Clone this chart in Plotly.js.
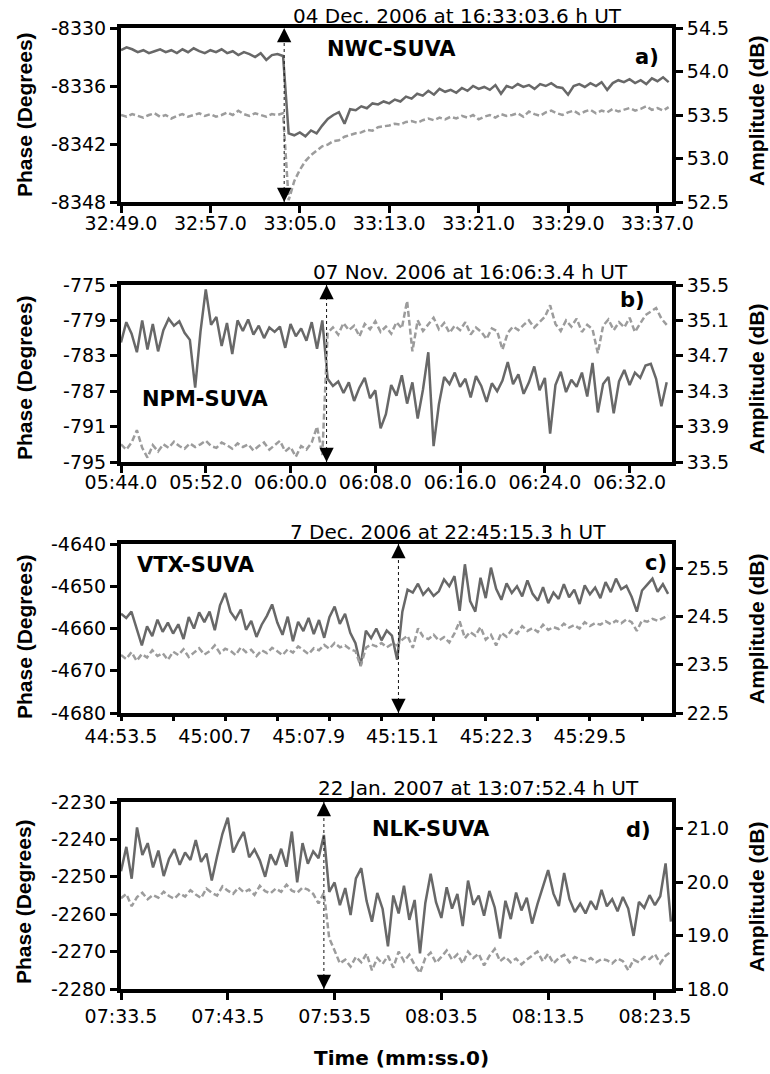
<!DOCTYPE html>
<html><head><meta charset="utf-8">
<script src="https://cdn.plot.ly/plotly-3.0.1.min.js"></script>
<style>html,body{margin:0;padding:0;background:#fff}#chart{width:770px;height:1074px}</style>
</head><body><div id="chart"></div>
<script>
// ---------- DATA ----------
// sampling steps (s) of each record
const stepA = 0.5, stepB = 0.5, stepC = 0.4, stepD = 0.5;
// event times (s from panel start)
const eventA = 14.6, eventB = 19.4, eventC = 21.3, eventD = 19.0;

// Panel a) NWC-SUVA
const phaseA = [-8332.3,-8332.0,-8332.2,-8332.5,-8332.3,-8332.6,-8332.4,-8332.2,-8332.5,-8332.3,
-8332.6,-8332.2,-8332.5,-8332.1,-8332.4,-8332.6,-8332.3,-8332.5,-8332.2,-8332.6,
-8332.4,-8332.8,-8332.5,-8332.7,-8333.0,-8332.6,-8333.3,-8332.8,-8332.7,-8332.9,
-8340.9,-8341.1,-8340.8,-8341.2,-8340.6,-8340.9,-8340.1,-8339.4,-8339.0,-8338.7,
-8339.9,-8338.4,-8338.5,-8338.1,-8338.3,-8337.8,-8337.9,-8337.6,-8337.8,-8337.4,
-8337.6,-8337.1,-8337.3,-8336.8,-8337.0,-8336.5,-8336.9,-8336.3,-8336.6,-8336.4,
-8336.7,-8336.2,-8336.5,-8336.0,-8336.3,-8336.1,-8336.4,-8335.9,-8336.8,-8336.0,
-8336.2,-8335.8,-8336.1,-8335.9,-8336.3,-8335.8,-8336.0,-8335.7,-8336.1,-8336.2,
-8336.9,-8336.0,-8335.8,-8336.1,-8335.7,-8336.0,-8335.6,-8336.4,-8335.7,-8335.4,
-8335.6,-8335.3,-8335.7,-8335.4,-8335.8,-8335.2,-8335.5,-8335.1,-8335.6];
const ampA = [53.50,53.48,53.51,53.49,53.47,53.50,53.52,53.48,53.50,53.46,
53.49,53.51,53.48,53.50,53.52,53.49,53.51,53.48,53.50,53.53,
53.50,53.55,53.51,53.49,53.52,53.50,53.48,53.51,53.50,53.52,
52.52,52.74,52.87,52.97,53.04,53.09,53.14,53.16,53.20,53.21,
53.25,53.27,53.29,53.30,53.33,53.32,53.36,53.37,53.38,53.40,
53.39,53.42,53.43,53.41,53.44,53.46,53.44,53.47,53.45,53.48,
53.46,53.49,53.47,53.50,53.45,53.48,53.50,53.47,53.51,53.49,
53.50,53.52,53.48,53.54,53.51,53.49,53.53,53.55,53.52,53.50,
53.53,53.55,53.51,53.54,53.56,53.52,53.55,53.53,53.57,53.54,
53.56,53.58,53.55,53.57,53.60,53.56,53.58,53.55,53.59];
const ticksA = [0,8,16,24,32,40,48];
const labelsA = ['32:49.0','32:57.0','33:05.0','33:13.0','33:21.0','33:29.0','33:37.0'];
const phaseTicksA = [-8348,-8342,-8336,-8330];

// Panel b) NPM-SUVA
const phaseB = [-781.5,-779.2,-780.5,-782.6,-779.0,-782.3,-779.4,-782.5,-780.1,-778.8,
-779.6,-779.1,-780.4,-781.2,-786.6,-780.3,-775.5,-779.5,-778.6,-781.9,
-779.3,-782.8,-779.0,-780.2,-778.9,-780.6,-779.6,-781.0,-779.8,-780.3,
-779.7,-782.1,-779.4,-780.8,-779.9,-781.3,-779.2,-782.2,-779.0,
-785.6,
-786.4,-785.9,-787.2,-786.0,-788.1,-786.6,-785.5,-787.8,-786.9,-791.2,
-789.6,-786.3,-787.5,-785.2,-788.4,-786.0,-790.1,-786.8,-782.6,-793.2,
-788.5,-785.4,-786.2,-784.9,-786.5,-785.6,-787.7,-785.3,-786.4,-788.2,
-786.1,-787.0,-785.8,-783.7,-786.2,-785.1,-787.3,-786.0,-784.2,-786.9,
-785.5,-791.8,-786.3,-784.8,-787.1,-785.7,-786.5,-784.9,-787.6,-783.8,
-789.4,-786.2,-785.4,-789.5,-785.9,-784.6,-786.3,-784.9,-785.5,-784.1,
-783.9,-785.6,-788.7,-786.0];
const ampB = [33.70,33.64,33.72,33.86,33.66,33.55,33.69,33.62,33.70,33.66,
33.73,33.68,33.65,33.71,33.67,33.70,33.74,33.68,33.66,33.72,
33.69,33.65,33.71,33.67,33.70,33.63,33.68,33.72,33.64,33.69,
33.74,33.62,33.67,33.56,33.68,33.64,33.72,33.90,33.58,
34.96,
35.02,34.94,35.07,34.99,35.04,34.92,35.06,35.00,35.09,34.97,
35.03,34.95,35.08,35.01,35.32,34.75,35.10,34.98,35.06,35.13,
35.00,35.07,34.96,35.04,34.99,35.08,34.94,35.02,34.97,34.89,
35.01,34.98,34.77,34.96,35.03,34.99,35.05,35.10,35.02,35.08,
35.14,35.27,35.06,34.98,35.10,35.03,35.12,34.97,35.05,35.00,
34.73,35.04,35.11,34.99,35.08,35.02,35.13,34.97,35.06,35.16,
35.20,35.24,35.12,35.05];
const ticksB = [0,8,16,24,32,40,48];
const labelsB = ['05:44.0','05:52.0','06:00.0','06:08.0','06:16.0','06:24.0','06:32.0'];
const phaseTicksB = [-795,-791,-787,-783,-779,-775];

// Panel c) VTX-SUVA
const phaseC = [-4656.5,-4657.5,-4656.0,-4660.2,-4664.0,-4659.5,-4661.8,-4657.9,-4660.8,-4658.6,
-4661.2,-4659.0,-4662.5,-4657.3,-4660.0,-4656.2,-4658.5,-4656.0,-4660.4,-4654.5,
-4651.6,-4656.0,-4657.8,-4655.5,-4660.3,-4658.2,-4662.0,-4659.1,-4657.0,-4654.3,
-4658.6,-4661.5,-4657.2,-4663.0,-4658.4,-4660.6,-4657.5,-4661.3,-4658.0,-4662.2,
-4657.3,-4654.8,-4658.9,-4656.5,-4661.0,-4663.5,-4668.8,-4660.5,-4662.3,-4660.0,
-4662.8,-4660.5,-4661.7,-4667.4,
-4656.0,-4650.8,-4651.5,-4649.4,-4652.0,-4650.6,-4652.3,-4651.2,-4648.4,-4650.0,
-4647.6,-4655.8,-4644.8,-4653.5,-4656.0,-4648.0,-4652.8,-4645.6,-4650.6,-4653.2,
-4649.3,-4651.6,-4650.0,-4652.4,-4648.6,-4651.8,-4653.4,-4650.2,-4654.0,-4651.5,
-4653.0,-4649.5,-4652.6,-4650.8,-4654.2,-4649.8,-4651.9,-4650.3,-4652.8,-4649.0,
-4651.4,-4648.2,-4650.7,-4649.9,-4652.5,-4656.0,-4651.0,-4649.6,-4648.2,-4651.3,
-4649.5,-4651.8];
const ampC = [23.70,23.62,23.76,23.58,23.72,23.65,23.80,23.68,23.74,23.60,
23.77,23.70,23.82,23.66,23.75,23.84,23.71,23.78,23.90,23.74,
23.83,23.79,23.70,23.86,23.76,23.81,23.68,23.80,23.74,23.85,
23.78,23.70,23.82,23.75,23.88,23.79,23.72,23.84,23.80,23.91,
23.83,23.95,23.86,23.90,23.82,23.78,23.47,23.85,23.92,23.88,
23.95,23.86,23.93,23.90,
24.02,24.10,23.85,24.25,24.08,24.03,24.12,24.00,24.07,23.96,
24.15,24.40,24.05,24.18,24.10,24.28,24.02,24.12,23.90,24.16,
24.08,24.22,24.14,24.30,24.20,24.26,24.18,24.33,24.22,24.28,
24.24,24.35,24.27,24.32,24.25,24.38,24.30,24.36,24.33,24.40,
24.34,24.41,24.36,24.44,24.38,24.20,24.42,24.39,24.45,24.41,
24.47,24.52];
const ticksC = [0,7.2,14.4,21.6,28.8,36.0];
const labelsC = ['44:53.5','45:00.7','45:07.9','45:15.1','45:22.3','45:29.5'];
const phaseTicksC = [-4680,-4670,-4660,-4650,-4640];

// Panel d) NLK-SUVA
const phaseD = [-2248.5,-2242.0,-2250.5,-2236.8,-2244.2,-2241.0,-2247.5,-2243.0,-2249.8,-2245.2,
-2242.6,-2246.8,-2243.5,-2245.5,-2240.2,-2246.0,-2243.8,-2251.0,-2244.5,-2238.5,
-2234.2,-2243.5,-2240.5,-2238.0,-2244.8,-2242.7,-2245.6,-2250.0,-2244.0,-2246.8,
-2242.5,-2247.3,-2237.9,-2251.5,-2241.0,-2246.5,-2243.2,-2245.0,-2238.8,
-2254.0,
-2251.5,-2257.6,-2253.0,-2260.2,-2250.4,-2247.7,-2256.5,-2262.0,-2254.3,-2258.6,
-2268.6,-2255.0,-2259.8,-2252.4,-2261.5,-2256.2,-2270.5,-2257.0,-2249.2,-2256.8,
-2261.0,-2252.8,-2258.5,-2254.6,-2263.2,-2251.0,-2257.5,-2255.0,-2260.4,-2253.8,
-2258.2,-2266.5,-2256.4,-2261.3,-2254.2,-2259.0,-2255.6,-2262.5,-2257.3,-2253.0,
-2248.2,-2254.5,-2257.8,-2249.0,-2256.0,-2259.4,-2257.2,-2259.8,-2256.5,-2258.8,
-2253.5,-2257.9,-2256.0,-2259.2,-2255.4,-2258.5,-2265.8,-2256.7,-2258.3,-2254.9,
-2257.6,-2255.2,-2246.4,-2262.0];
const ampD = [19.70,19.78,19.55,19.72,19.80,19.68,19.76,19.71,19.82,19.74,
19.69,19.79,19.73,19.85,19.77,19.70,19.88,19.80,19.75,19.92,
19.84,19.78,19.90,19.81,19.86,19.76,19.93,19.83,19.79,19.88,
19.82,19.95,19.84,19.80,19.90,19.86,19.78,19.60,19.80,
18.95,
18.72,18.48,18.55,18.42,18.60,18.50,18.66,18.35,18.58,18.47,
18.62,18.40,18.70,18.52,18.64,18.45,18.30,18.58,18.68,18.49,
18.60,18.72,18.55,18.65,18.48,18.70,18.58,18.66,18.44,18.62,
18.75,18.52,18.60,18.50,18.57,18.46,18.55,18.63,18.70,18.52,
18.66,18.48,18.58,18.64,18.50,18.60,18.55,18.52,18.58,18.50,
18.56,18.54,18.48,18.57,18.52,18.35,18.55,18.50,18.60,18.56,
18.65,18.48,18.62,18.70];
const ticksD = [0,10,20,30,40,50];
const labelsD = ['07:33.5','07:43.5','07:53.5','08:03.5','08:13.5','08:23.5'];
const phaseTicksD = [-2280,-2270,-2260,-2250,-2240,-2230];

const stations = ['NWC-SUVA','NPM-SUVA','VTX-SUVA','NLK-SUVA'];
const panelTags = ['a)','b)','c)','d)'];
const dates = ['04 Dec. 2006 at 16:33:03.6 h UT','07 Nov. 2006 at 16:06:3.4 h UT',
               '7 Dec. 2006 at 22:45:15.3 h UT','22 Jan. 2007 at 13:07:52.4 h UT'];

// ---------- BUILD ----------
const W = 770, H = 1074;
const px = v => v / W, py = v => 1 - v / H;
const SOLID = '#686868', DASH = '#9c9c9c';
const times = (arr, step) => arr.map((_, i) => +(i * step).toFixed(3));

const panels = [
  {ph: phaseA, am: ampA, step: stepA, ev: eventA, top: 28, bot: 202, xr: [0, 49.3], xso: -6,
   yl: [-8348, -8330], ylt: phaseTicksA, yr: [52.5, 54.5], yrt0: 52.5, yrd: 0.5, tv: ticksA, tt: labelsA},
  {ph: phaseB, am: ampB, step: stepB, ev: eventB, top: 285, bot: 462, xr: [0, 52.0], xso: -7,
   yl: [-795, -775], ylt: phaseTicksB, yr: [33.5, 35.5], yrt0: 33.5, yrd: 0.4, tv: ticksB, tt: labelsB},
  {ph: phaseC, am: ampC, step: stepC, ev: eventC, top: 544, bot: 713, xr: [0, 42.3], xso: 3,
   yl: [-4680, -4640], ylt: phaseTicksC, yr: [22.5, 26.0], yrt0: 22.5, yrd: 1, tv: ticksC, tt: labelsC},
  {ph: phaseD, am: ampD, step: stepD, ev: eventD, top: 802, bot: 989, xr: [0, 51.6], xso: 0,
   yl: [-2280, -2230], ylt: phaseTicksD, yr: [18, 21.5], yrt0: 18, yrd: 1, tv: ticksD, tt: labelsD}
];

const tickFont = {family: 'DejaVu Sans', size: 19, color: '#000'};
const xdom = [px(121), px(672)];
const layout = {
  width: W, height: H, autosize: false, showlegend: false,
  margin: {l: 0, r: 0, t: 0, b: 0}, paper_bgcolor: '#fff', plot_bgcolor: '#fff',
  shapes: [], annotations: []
};
const data = [];
const eps = 1e-6;

panels.forEach((p, k) => {
  const n = k + 1;
  const xa = n === 1 ? 'x' : 'x' + n;
  const yL = 'y' + (2 * k + 1 === 1 ? '' : 2 * k + 1);
  const yR = 'y' + (2 * k + 2);
  const xKey = 'xaxis' + (n === 1 ? '' : n);
  const yLKey = 'yaxis' + (2 * k + 1 === 1 ? '' : 2 * k + 1);
  const yRKey = 'yaxis' + (2 * k + 2);
  const dom = [py(p.bot), py(p.top)];
  layout[xKey] = {
    domain: xdom, anchor: yL, range: p.xr, showgrid: false, zeroline: false,
    showline: true, mirror: true, linewidth: 4, linecolor: '#000',
    tickmode: 'array', tickvals: p.tv, ticktext: p.tt, ticklabelstandoff: p.xso,
    ticks: k === 2 ? '' : 'outside', ticklen: 7, tickwidth: 3, tickcolor: '#000',
    tickfont: tickFont, fixedrange: true
  };
  const ylspan = p.yl[1] - p.yl[0];
  layout[yLKey] = {
    domain: dom, anchor: xa, range: [p.yl[0] - ylspan * eps, p.yl[1] + ylspan * eps],
    showgrid: false, zeroline: false, showline: true, linewidth: 4, linecolor: '#000',
    tickmode: 'array', tickvals: p.ylt, ticktext: p.ylt.map(v => String(v)),
    ticks: 'outside', ticklen: 7, tickwidth: 3, tickcolor: '#000',
    tickfont: tickFont, fixedrange: true
  };
  const yrspan = p.yr[1] - p.yr[0];
  layout[yRKey] = {
    overlaying: yL, side: 'right', anchor: xa,
    range: [p.yr[0] - yrspan * eps, p.yr[1] + yrspan * eps],
    showgrid: false, zeroline: false, showline: true, linewidth: 4, linecolor: '#000',
    tick0: p.yrt0, dtick: p.yrd, tickformat: '.1f', ticks: 'outside', ticklen: 7, tickwidth: 3,
    tickcolor: '#000', tickfont: tickFont, fixedrange: true
  };
  data.push({type: 'scatter', mode: 'lines', x: times(p.ph, p.step), y: p.ph, xaxis: xa, yaxis: yL,
    line: {color: SOLID, width: 2.5}, hoverinfo: 'skip'});
  data.push({type: 'scatter', mode: 'lines', x: times(p.am, p.step), y: p.am, xaxis: xa, yaxis: yR,
    line: {color: DASH, width: 2.5, dash: '6px,3px'}, hoverinfo: 'skip'});
  // event marker
  layout.shapes.push({type: 'line', xref: xa, yref: yL + ' domain', x0: p.ev, x1: p.ev, y0: 0, y1: 1,
    line: {color: '#111', width: 1, dash: 'dot'}});
  layout.annotations.push({xref: xa, yref: yL + ' domain', x: p.ev, y: 1, ax: 0, ay: 14, text: '',
    showarrow: true, arrowhead: 2, arrowsize: 2.2, arrowwidth: 1.3, arrowcolor: '#000'});
  layout.annotations.push({xref: xa, yref: yL + ' domain', x: p.ev, y: 0, ax: 0, ay: -14, text: '',
    showarrow: true, arrowhead: 2, arrowsize: 2.2, arrowwidth: 1.3, arrowcolor: '#000'});
});

// panel c tick marks (every 4 s) independent of label positions
layout.xaxis5 = {
  overlaying: 'x3', anchor: 'y5', range: panels[2].xr, showgrid: false, zeroline: false,
  showline: false, showticklabels: false, tick0: 0, dtick: 4, ticks: 'outside',
  ticklen: 7, tickwidth: 3, tickcolor: '#000', fixedrange: true
};
data.push({type: 'scatter', mode: 'lines', x: [0], y: [-4700], xaxis: 'x5', yaxis: 'y5',
  line: {color: 'rgba(0,0,0,0)'}, hoverinfo: 'skip'});

// text annotations
const ann = (text, x, y, font, extra) => layout.annotations.push(Object.assign({
  text, xref: 'paper', yref: 'paper', x: px(x), y: py(y), xanchor: 'center', yanchor: 'middle',
  showarrow: false, font}, extra || {}));
const dateFont = {family: 'DejaVu Sans', size: 20, color: '#000'};
const boldFont = {family: 'DejaVu Sans', size: 21, color: '#000', weight: 'bold'};
const vtFont = {family: 'Liberation Sans, Arial', size: 21, color: '#000', weight: 'bold'};
const datePos = [[457, 16], [470, 272], [448, 532], [478, 788]];
const stnPos = [[392, 49], [206, 399], [196, 565], [431, 829]];
const tagPos = [[647, 57], [632, 300], [656, 563], [638, 830]];
const leftTitleY = [115, 378, 637, 902];
const rightTitleY = [111, 379, 629, 897];
for (let k = 0; k < 4; k++) {
  ann(dates[k], datePos[k][0], datePos[k][1], dateFont);
  ann(stations[k], stnPos[k][0], stnPos[k][1], boldFont);
  ann(panelTags[k], tagPos[k][0], tagPos[k][1], boldFont);
  ann('Phase (Degrees)', 24, leftTitleY[k], vtFont, {textangle: -90});
  ann('Amplitude (dB)', 756, rightTitleY[k], vtFont, {textangle: -90});
}
ann('Time (mm:ss.0)', 401, 1058, {family: 'DejaVu Sans', size: 20, color: '#000', weight: 'bold'});

Plotly.newPlot('chart', data, layout, {staticPlot: true, displayModeBar: false});
</script></body></html>
